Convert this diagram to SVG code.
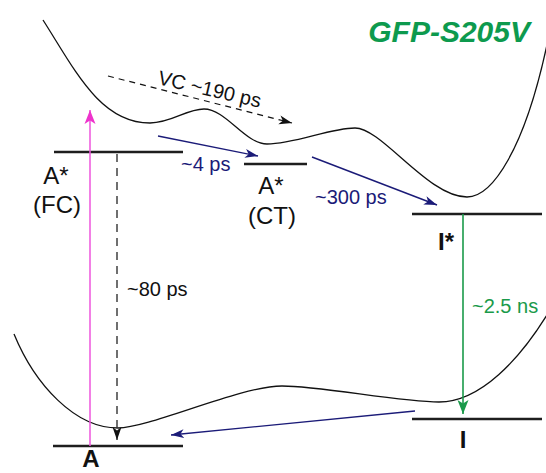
<svg xmlns="http://www.w3.org/2000/svg" width="546" height="473" viewBox="0 0 546 473">
<style>
  text { font-family: "Liberation Sans", Arial, sans-serif; }
  .lvl { stroke: #1e1e1e; stroke-width: 2.6; fill: none; }
  .pes { stroke: #111; stroke-width: 1.3; fill: none; }
  .lbl { font-size: 24px; fill: #111; text-anchor: middle; }
  .rate { font-size: 20px; }
  .navy { fill: #1b1b78; }
  .navyl { stroke: #1b1b78; stroke-width: 1.4; fill: none; }
</style>
<defs>
  <marker id="mNavy" markerUnits="userSpaceOnUse" markerWidth="14" markerHeight="10" refX="13" refY="5" orient="auto">
    <path d="M0,0.5 L13,5 L0,9.5 L3.5,5 z" fill="#1b1b78"/>
  </marker>
  <marker id="mBlack" markerUnits="userSpaceOnUse" markerWidth="14" markerHeight="10" refX="13" refY="5" orient="auto">
    <path d="M0,0.5 L13,5 L0,9.5 L3.5,5 z" fill="#111"/>
  </marker>
  <marker id="mGreen" markerUnits="userSpaceOnUse" markerWidth="14" markerHeight="12" refX="14" refY="6" orient="auto">
    <path d="M0,0.5 L14,6 L0,11.5 L3.5,6 z" fill="#1a9a4a"/>
  </marker>
  <marker id="mPink" markerUnits="userSpaceOnUse" markerWidth="14" markerHeight="12" refX="14" refY="6" orient="auto">
    <path d="M0,0.5 L14,6 L0,11.5 L3.5,6 z" fill="#ee33cc"/>
  </marker>
</defs>
<rect width="546" height="473" fill="#fff"/>

<g id="title">
  <text x="530" y="42" text-anchor="end" font-size="30" font-weight="bold" font-style="italic" fill="#0d9a4e">GFP-S205V</text>
</g>

<g id="surfaces">
  <path class="pes" d="M43,20 C75,70 100,123 150,123 C172,123 186,109 204,109 C226,109 245,144 267,144 C295,144 330,128 355,128 C382,128 428,197 467,197 C492,197 525,150 548,40"/>
  <path class="pes" d="M14,334 C35,385 75,428 118,428 C150,428 240,386 282,386 C320,386 400,402 439,402 C480,402 520,360 550,310"/>
</g>

<g id="node-A-star-FC">
  <line class="lvl" x1="54" y1="152" x2="183" y2="152"/>
  <text class="lbl" x="56" y="184">A*</text>
  <text class="lbl" x="57" y="213">(FC)</text>
</g>
<g id="node-A-star-CT">
  <line class="lvl" x1="244" y1="164" x2="307" y2="164"/>
  <text class="lbl" x="271" y="194">A*</text>
  <text class="lbl" x="272" y="224">(CT)</text>
</g>
<g id="node-I-star">
  <line class="lvl" x1="412" y1="214" x2="542" y2="214"/>
  <text class="lbl" x="446" y="250" font-weight="bold">I*</text>
</g>
<g id="node-I">
  <line class="lvl" x1="412" y1="419" x2="542" y2="419"/>
  <text class="lbl" x="463" y="448" font-size="25" font-weight="bold">I</text>
</g>
<g id="node-A">
  <line class="lvl" x1="53" y1="446" x2="183" y2="446"/>
  <text class="lbl" x="91" y="467" font-size="22" font-weight="bold">A</text>
</g>

<g id="connectors">
  <line x1="90" y1="446" x2="90" y2="110" stroke="#ee55dd" stroke-width="1.5" marker-end="url(#mPink)"/>
  <line x1="117" y1="154" x2="117" y2="440" stroke="#333" stroke-width="1.4" stroke-dasharray="8,6" marker-end="url(#mBlack)"/>
  <line x1="108" y1="76" x2="292" y2="123" stroke="#111" stroke-width="1.2" stroke-dasharray="6,5" marker-end="url(#mBlack)"/>
  <line class="navyl" x1="158" y1="136" x2="258" y2="156" marker-end="url(#mNavy)"/>
  <line class="navyl" x1="312" y1="157" x2="437" y2="205" marker-end="url(#mNavy)"/>
  <line x1="463" y1="214" x2="463" y2="414" stroke="#1a9a4a" stroke-width="1.6" marker-end="url(#mGreen)"/>
  <line class="navyl" x1="415" y1="411" x2="171" y2="435" marker-end="url(#mNavy)"/>
</g>

<g id="labels">
  <text x="157" y="84" class="rate" fill="#111" transform="rotate(13 157 84)">VC ~190 ps</text>
  <text x="181" y="171" class="rate navy">~4 ps</text>
  <text x="315" y="204" class="rate navy">~300 ps</text>
  <text x="127" y="296" class="rate" fill="#111">~80 ps</text>
  <text x="472" y="313" class="rate" fill="#1a9a4a">~2.5 ns</text>
</g>
</svg>
